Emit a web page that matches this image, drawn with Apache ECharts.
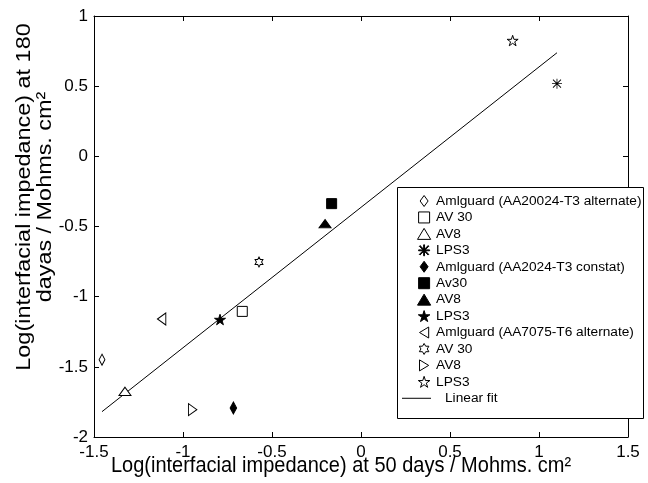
<!DOCTYPE html>
<html>
<head>
<meta charset="utf-8">
<script src="https://cdn.jsdelivr.net/npm/echarts@6/dist/echarts.min.js"></script>
<style>
  html, body { margin: 0; padding: 0; background: #fff; }
  #chart { width: 648px; height: 483px; }
</style>
</head>
<body>
<div id="chart"></div>
<script>
// Log of interfacial impedance (Mohms.cm2) after 50 and 180 days of exposure,
// for three coating systems on three alloys / exposure regimes.
const legendLabels = [
  'Amlguard (AA20024-T3 alternate)', 'AV 30', 'AV8', 'LPS3',
  'Amlguard (AA2024-T3 constat)', 'Av30', 'AV8', 'LPS3',
  'Amlguard (AA7075-T6 alternate)', 'AV 30', 'AV8', 'LPS3'
];
// substrate / regime group of each entry (keeps series names unique)
const groups = [
  '2024 alt', '2024 alt', '2024 alt', '2024 alt',
  '2024 const', '2024 const', '2024 const', '2024 const',
  '7075 alt', '7075 alt', '7075 alt', '7075 alt'
];
const logZ50 = [-1.455, -0.667, -1.326, 1.101, -0.717, -0.165, -0.202, -0.792, -1.120, -0.573, -0.946, 0.852];
const logZ180 = [-1.449, -1.105, -1.675, 0.518, -1.793, -0.337, -0.480, -1.163, -1.159, -0.753, -1.805, 0.825];
const fitLabel = 'Linear fit';

const xTicks = [-1.5, -1, -0.5, 0, 0.5, 1, 1.5];
const yTicks = [-2, -1.5, -1, -0.5, 0, 0.5, 1];

const xTitle = 'Log(interfacial impedance) at 50 days / Mohms. cm\u00b2';
const yTitle = 'Log(interfacial impedance) at 180\ndayas / Mohms. cm\u00b2';

const FONT = '"Liberation Sans", Arial, Helvetica, sans-serif';

// marker outlines, drawn in their own boxes (aspect kept)
const SYM = {
  diamond: 'path://M4,0 L8,5.5 L4,11 L0,5.5 Z',
  square: 'path://M0,0 L10,0 L10,10 L0,10 Z',
  triUp: 'path://M6,0 L12,10 L0,10 Z',
  triLeft: 'path://M0,6 L10,0 L10,12 Z',
  triRight: 'path://M10,6 L0,0 L0,12 Z',
  asterisk: 'path://M4.6,0 L5.4,0 L5.4,10 L4.6,10 Z M0,4.6 L10,4.6 L10,5.4 L0,5.4 Z ' +
            'M1.3,0.7 L9.3,8.7 L8.7,9.3 L0.7,1.3 Z M8.7,0.7 L9.3,1.3 L1.3,9.3 L0.7,8.7 Z',
  star5: 'path://M5,0 L6.117,3.463 L9.755,3.455 L6.807,5.587 L7.939,9.045 L5,6.9 L2.061,9.045 ' +
         'L3.193,5.587 L0.245,3.455 L3.883,3.463 Z',
  star6: 'path://M5,0 L6.443,2.5 L9.33,2.5 L7.887,5 L9.33,7.5 L6.443,7.5 L5,10 L3.557,7.5 ' +
         'L0.67,7.5 L2.113,5 L0.67,2.5 L3.557,2.5 Z',
  dash: 'path://M0,0 L29,0 L29,1 L0,1 Z'
};
const markerStyle = [
  { symbol: SYM.diamond, size: [8, 11], filled: false },
  { symbol: SYM.square, size: [10, 10], filled: false },
  { symbol: SYM.triUp, size: [12, 10], filled: false },
  { symbol: SYM.asterisk, size: [10, 10], filled: true, noBorder: true },
  { symbol: SYM.diamond, size: [9, 12], filled: true },
  { symbol: SYM.square, size: [10, 10], filled: true },
  { symbol: SYM.triUp, size: [12, 10], filled: true },
  { symbol: SYM.star5, size: [11, 11], filled: true },
  { symbol: SYM.triLeft, size: [10, 12], filled: false },
  { symbol: SYM.star6, size: [9, 10], filled: false },
  { symbol: SYM.triRight, size: [10, 12], filled: false },
  { symbol: SYM.star5, size: [11, 11], filled: false }
];

function leastSquares(xs, ys) {
  const n = xs.length;
  const mx = xs.reduce((a, b) => a + b, 0) / n;
  const my = ys.reduce((a, b) => a + b, 0) / n;
  let sxx = 0, sxy = 0;
  for (let i = 0; i < n; i++) {
    sxx += (xs[i] - mx) * (xs[i] - mx);
    sxy += (xs[i] - mx) * (ys[i] - my);
  }
  const slope = sxy / sxx;
  return { slope: slope, intercept: my - slope * mx };
}

const fit = leastSquares(logZ50, logZ180);
const fitX = [Math.min.apply(null, logZ50), Math.max.apply(null, logZ50)];
const fitData = fitX.map(x => [x, fit.intercept + fit.slope * x]);

const seriesNames = legendLabels.map((l, i) => l + ' [' + groups[i] + ']');
const stripGroup = name => name.replace(/ \[[^\]]*\]$/, '');

const scatterSeries = legendLabels.map((label, i) => {
  const m = markerStyle[i];
  return {
    name: seriesNames[i],
    type: 'scatter',
    data: [[logZ50[i], logZ180[i]]],
    symbol: m.symbol,
    symbolSize: m.size,
    symbolKeepAspect: true,
    z: 5,
    itemStyle: {
      color: m.filled ? '#000' : '#fff',
      borderColor: '#000',
      borderWidth: m.noBorder ? 0 : 1,
      opacity: 1
    },
    emphasis: { disabled: true }
  };
});

const fitSeries = {
  name: fitLabel,
  type: 'line',
  data: fitData,
  symbol: 'none',
  showSymbol: false,
  z: 3,
  lineStyle: { color: '#000', width: 1 },
  itemStyle: { color: '#000' },
  emphasis: { disabled: true }
};

const axisCommon = {
  type: 'value',
  axisLine: { show: true, onZero: false, lineStyle: { color: '#000', width: 1 } },
  axisTick: { show: true, inside: true, length: 5, lineStyle: { color: '#000', width: 1 } },
  splitLine: { show: false }
};

const LEG_TOP = 194;
const ROW = 16.44;
const LEG_TEXT = 14;
const LEG_FONT = 13.7;

const option = {
  animation: false,
  backgroundColor: '#fff',
  grid: { left: 94, right: 20, top: 16, bottom: 46, containLabel: false, outerBoundsMode: 'none' },
  xAxis: [
    Object.assign({}, axisCommon, {
      position: 'bottom', min: xTicks[0], max: xTicks[xTicks.length - 1],
      interval: xTicks[1] - xTicks[0],
      axisLabel: { show: true, color: '#000', fontFamily: FONT, fontSize: 17, margin: 7 }
    }),
    Object.assign({}, axisCommon, {
      position: 'top', min: xTicks[0], max: xTicks[xTicks.length - 1],
      interval: xTicks[1] - xTicks[0], axisLabel: { show: false }
    })
  ],
  yAxis: [
    Object.assign({}, axisCommon, {
      position: 'left', min: yTicks[0], max: yTicks[yTicks.length - 1],
      interval: yTicks[1] - yTicks[0],
      axisLabel: { show: true, color: '#000', fontFamily: FONT, fontSize: 17, margin: 6 }
    }),
    Object.assign({}, axisCommon, {
      position: 'right', min: yTicks[0], max: yTicks[yTicks.length - 1],
      interval: yTicks[1] - yTicks[0], axisLabel: { show: false }
    })
  ],
  legend: [
    {
      orient: 'vertical',
      left: 417, top: LEG_TOP,
      padding: 0,
      itemWidth: 14, itemHeight: 11, itemGap: ROW - LEG_TEXT,
      z: 100,
      selectedMode: false,
      data: seriesNames,
      formatter: stripGroup,
      itemStyle: { borderWidth: 1 },
      textStyle: { color: '#000', fontFamily: FONT, fontSize: LEG_FONT }
    },
    {
      orient: 'vertical',
      left: 402, top: LEG_TOP + 12 * ROW,
      padding: 0,
      itemWidth: 29, itemHeight: 11,
      symbolKeepAspect: true,
      z: 100,
      selectedMode: false,
      data: [{ name: fitLabel, icon: SYM.dash }],
      itemStyle: { color: '#000', borderWidth: 0 },
      textStyle: { color: '#000', fontFamily: FONT, fontSize: LEG_FONT, padding: [0, 0, 0, 9] }
    }
  ],
  graphic: [
    {
      type: 'rect', z: 50,
      shape: { x: 397.5, y: 187.5, width: 246, height: 231 },
      style: { fill: '#fff', stroke: '#000', lineWidth: 1 }
    },
    {
      type: 'text', z: 50,
      x: 341, y: 466, scaleY: 1.12,
      style: { text: xTitle, fill: '#000', font: '20px ' + FONT, align: 'center', verticalAlign: 'middle' }
    },
    {
      type: 'text', z: 50,
      x: 34.5, y: 197, rotation: Math.PI / 2, scaleX: 1.17,
      style: { text: yTitle, fill: '#000', font: '20px ' + FONT, lineHeight: 21, align: 'center', verticalAlign: 'middle' }
    }
  ],
  series: [fitSeries].concat(scatterSeries)
};

const chart = echarts.init(document.getElementById('chart'), null, { renderer: 'canvas' });
chart.setOption(option);
</script>
</body>
</html>
